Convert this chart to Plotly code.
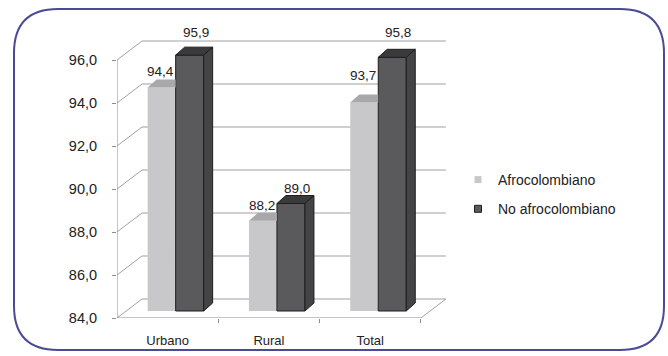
import plotly.graph_objects as go

# ---------------- data ----------------
categories = ["Urbano", "Rural", "Total"]
afro = [94.4, 88.2, 93.7]
no_afro = [95.9, 89.0, 95.8]
series_names = ["Afrocolombiano", "No afrocolombiano"]
y_ticks = [84, 86, 88, 90, 92, 94, 96]
y_tick_text = ["84,0", "86,0", "88,0", "90,0", "92,0", "94,0", "96,0"]

# ---------------- layout geometry (styling) ----------------
W, H = 668, 356
ML, MR, MT, MB = 117, 222, 38, 38
PW, PH = W - ML - MR, H - MT - MB
PX_X = 101.3           # pixels per category
PX_Y = 21.5            # pixels per y unit
Y0 = y_ticks[0]
XR = [-0.5, -0.5 + PW / PX_X]
YR = [Y0, Y0 + PH / PX_Y]

# 3D depth offsets (pixels -> data units)
dx_f, dy_f = 8 / PX_X, 7 / PX_Y      # bar front face vs. front plane
dx_b, dy_b = 9 / PX_X, 8 / PX_Y      # bar depth
dx_w, dy_w = 25 / PX_X, 19 / PX_Y    # back wall
bw = 28 / PX_X                        # bar width

LIGHT_FRONT, LIGHT_TOP = "#c8c8ca", "#a8a8a8"
DARK_FRONT, DARK_SIDE, DARK_TOP, DARK_EDGE = "#5a5a5c", "#444446", "#3a3a3a", "#1e1e1e"
GRID = "#a0a0a0"
AXIS = "#8c8c8c"
FONT = "Liberation Sans, Arial, sans-serif"

xs = list(range(len(categories)))

fig = go.Figure()

# ---- front faces as real bars ----
fig.add_trace(go.Bar(
    x=[c + dx_f for c in xs], y=[v - Y0 for v in afro], base=Y0 + dy_f,
    width=bw, offset=-bw, marker=dict(color=LIGHT_FRONT, line=dict(width=0)),
    name=series_names[0], showlegend=False, hoverinfo="skip"))
fig.add_trace(go.Bar(
    x=[c + dx_f for c in xs], y=[v - Y0 for v in no_afro], base=Y0 + dy_f,
    width=bw, offset=0, marker=dict(color=DARK_FRONT, line=dict(color=DARK_EDGE, width=1)),
    name=series_names[1], showlegend=False, hoverinfo="skip"))

# ---- top faces of light bars (part not hidden by dark bar) ----
px, py = [], []
for c, v in zip(xs, afro):
    xl = c + dx_f - bw
    xr = c + dx_f
    t = v + dy_f
    px += [xl, xr, xr, xl + dx_b, xl, None]
    py += [t, t, t + dy_b, t + dy_b, t, None]
fig.add_trace(go.Scatter(x=px, y=py, mode="lines", fill="toself", fillcolor=LIGHT_TOP,
                         line=dict(width=0, color=LIGHT_TOP), showlegend=False, hoverinfo="skip"))

# ---- dark bar side and top faces ----
sx, sy, tx, ty = [], [], [], []
for c, v in zip(xs, no_afro):
    xl = c + dx_f
    xr = c + dx_f + bw
    b = Y0 + dy_f
    t = v + dy_f
    sx += [xr, xr + dx_b, xr + dx_b, xr, xr, None]
    sy += [b, b + dy_b, t + dy_b, t, b, None]
    tx += [xl, xl + dx_b, xr + dx_b, xr, xl, None]
    ty += [t, t + dy_b, t + dy_b, t, t, None]
fig.add_trace(go.Scatter(x=sx, y=sy, mode="lines", fill="toself", fillcolor=DARK_SIDE,
                         line=dict(width=1, color=DARK_EDGE), showlegend=False, hoverinfo="skip"))
fig.add_trace(go.Scatter(x=tx, y=ty, mode="lines", fill="toself", fillcolor=DARK_TOP,
                         line=dict(width=1, color=DARK_EDGE), showlegend=False, hoverinfo="skip"))

# ---- legend entries ----
fig.add_trace(go.Scatter(x=[None], y=[None], mode="markers", name=series_names[0],
                         legendgroup="a",
                         marker=dict(symbol="square", size=7, color=LIGHT_FRONT,
                                     line=dict(width=0))))
fig.add_trace(go.Scatter(x=[None], y=[None], mode="markers", name=series_names[1],
                         legendgroup="b",
                         marker=dict(symbol="square", size=7, color=DARK_FRONT,
                                     line=dict(width=1, color=DARK_EDGE))))

# ---- walls, gridlines, axis lines (shapes below traces) ----
shapes = []
xl_axis = XR[0]
xr_floor = xs[-1] + 0.5
for v in y_ticks:
    shapes.append(dict(type="line", xref="x", yref="y", layer="below",
                       x0=xl_axis + dx_w, x1=xr_floor + dx_w, y0=v + dy_w, y1=v + dy_w,
                       line=dict(color=GRID, width=1)))
    shapes.append(dict(type="line", xref="x", yref="y", layer="below",
                       x0=xl_axis, x1=xl_axis + dx_w, y0=v, y1=v + dy_w,
                       line=dict(color=GRID, width=1)))
shapes.append(dict(type="line", xref="x", yref="y", layer="below",
                   x0=xr_floor, x1=xr_floor + dx_w, y0=Y0, y1=Y0 + dy_w,
                   line=dict(color=GRID, width=1)))
shapes.append(dict(type="line", xref="x", yref="y", layer="below",
                   x0=xl_axis, x1=xl_axis, y0=Y0, y1=y_ticks[-1],
                   line=dict(color=AXIS, width=1)))
shapes.append(dict(type="line", xref="x", yref="y", layer="below",
                   x0=xl_axis, x1=xr_floor, y0=Y0, y1=Y0,
                   line=dict(color=AXIS, width=1)))

# ---- rounded frame ----
def ppx(p):
    return (p - ML) / PW

def ppy(p):
    return (H - MB - p) / PH

fx0, fx1, fy0, fy1, r = 14, 664, 9, 350, 44
path = (
    f"M {ppx(fx0 + r)},{ppy(fy0)} L {ppx(fx1 - r)},{ppy(fy0)} "
    f"Q {ppx(fx1)},{ppy(fy0)} {ppx(fx1)},{ppy(fy0 + r)} "
    f"L {ppx(fx1)},{ppy(fy1 - r)} Q {ppx(fx1)},{ppy(fy1)} {ppx(fx1 - r)},{ppy(fy1)} "
    f"L {ppx(fx0 + r)},{ppy(fy1)} Q {ppx(fx0)},{ppy(fy1)} {ppx(fx0)},{ppy(fy1 - r)} "
    f"L {ppx(fx0)},{ppy(fy0 + r)} Q {ppx(fx0)},{ppy(fy0)} {ppx(fx0 + r)},{ppy(fy0)} Z"
)
shapes.append(dict(type="path", xref="paper", yref="paper", layer="below", path=path,
                   line=dict(color="#4a4a96", width=2), fillcolor="rgba(0,0,0,0)"))

# ---- value labels ----
light_lift = [16, 15, 27]
dark_lift = [23, 15, 25]
annotations = []
for c, v, lift in zip(xs, afro, light_lift):
    annotations.append(dict(x=c + dx_f - bw / 2, y=v + dy_f, xref="x", yref="y",
                            text=f"{v:.1f}".replace(".", ","), showarrow=False,
                            yshift=lift, xshift=-1, font=dict(size=13.5, color="#222", family=FONT)))
for c, v, lift in zip(xs, no_afro, dark_lift):
    annotations.append(dict(x=c + dx_f + bw / 2, y=v + dy_f, xref="x", yref="y",
                            text=f"{v:.1f}".replace(".", ","), showarrow=False,
                            yshift=lift, xshift=6, font=dict(size=13.5, color="#222", family=FONT)))

fig.update_layout(
    width=W, height=H,
    margin=dict(l=ML, r=MR, t=MT, b=MB, pad=0, autoexpand=False),
    paper_bgcolor="white", plot_bgcolor="white",
    barmode="overlay",
    font=dict(family=FONT, color="#222"),
    shapes=shapes, annotations=annotations,
    legend=dict(xref="container", yref="container", x=458 / W, y=1 - 164 / H,
                xanchor="left", yanchor="top", font=dict(size=14, family=FONT, color="#222"),
                tracegroupgap=8, bgcolor="rgba(0,0,0,0)", itemwidth=30),
    xaxis=dict(range=XR, showgrid=False, zeroline=False, showline=False, automargin=False,
               tickmode="array", tickvals=xs, ticktext=categories, ticks="",
               ticklabelstandoff=13, tickfont=dict(size=13, family=FONT, color="#222"),
               minor=dict(tickmode="array", tickvals=[c + 0.5 for c in xs], ticks="outside",
                          ticklen=4, tickcolor=AXIS, showgrid=False)),
    yaxis=dict(range=YR, showgrid=False, zeroline=False, showline=False, automargin=False,
               tickmode="array", tickvals=y_ticks, ticktext=y_tick_text,
               ticks="outside", ticklen=4, tickcolor=AXIS, ticklabelstandoff=12,
               tickfont=dict(size=14.5, family=FONT, color="#222")),
)

fig.write_html("out.html")
